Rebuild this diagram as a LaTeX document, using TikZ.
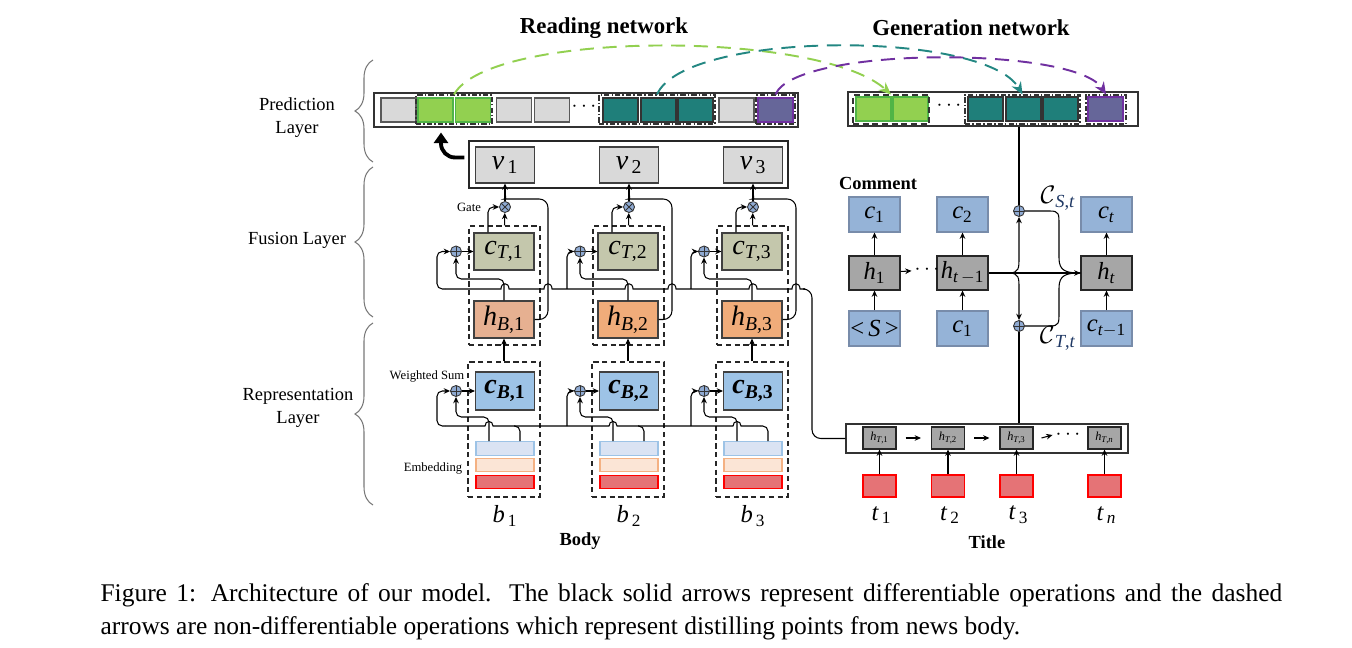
\documentclass[tikz,border=0pt]{standalone}
\usepackage{fontspec}
\setmainfont{Liberation Serif}
\usepackage{tikz}
\usetikzlibrary{arrows.meta,positioning,calc,decorations.pathreplacing}

\definecolor{cellGray}  {RGB}{217,217,217}
\definecolor{cellEdge}  {RGB}{ 89, 89, 89}
\definecolor{limeFill}  {RGB}{146,208, 80}
\definecolor{limeEdge}  {RGB}{ 80,180, 70}
\definecolor{tealFill}  {RGB}{ 31,127,122}
\definecolor{tealArc}   {RGB}{ 35,135,130}
\definecolor{violFill}  {RGB}{102,102,153}
\definecolor{violEdge}  {RGB}{112, 48,160}
\definecolor{ctFill}    {RGB}{196,199,172}
\definecolor{hbFillA}   {RGB}{230,176,145}
\definecolor{hbFill}    {RGB}{240,172,122}
\definecolor{cbFill}    {RGB}{157,195,230}
\definecolor{embBlue}   {RGB}{218,227,243}
\definecolor{embBlueE}  {RGB}{157,195,230}
\definecolor{embPeach}  {RGB}{251,229,214}
\definecolor{embPeachE} {RGB}{244,177,131}
\definecolor{embRed}    {RGB}{229,115,118}
\definecolor{opFill}    {RGB}{143,170,210}
\definecolor{cmtFill}   {RGB}{149,179,215}
\definecolor{cmtEdge}   {RGB}{120,140,170}
\definecolor{hidFill}   {RGB}{166,166,166}
\definecolor{braceGray} {RGB}{120,120,120}
\definecolor{subBlue}   {RGB}{ 31, 56,100}

\newcommand{\vlab}[2]{\textit{#1}\textsubscript{#2}}
\newcommand{\fsz}[1]{\fontsize{#1}{#1}\selectfont}

\tikzset{
  headline/.style={font=\bfseries\fsz{13}},
  boldlabel/.style={font=\bfseries\fsz{10.5}},
  layername/.style={font=\fontsize{10.5}{13}\selectfont, align=center},
  smalltext/.style={font=\fsz{7.2}, inner sep=0pt},
  lbrace/.style={decorate, decoration={brace, amplitude=0.36cm},
                 draw=braceGray, line width=0.6pt},
  predbar/.style={draw=black!80, line width=0.7pt, minimum height=0.68cm, inner sep=0pt},
  predcell/.style={draw=cellEdge, fill=cellGray, line width=0.6pt,
                   minimum width=0.70cm, minimum height=0.48cm, inner sep=0pt},
  dashdot/.style={draw=black!80, line width=0.6pt,
                  dash pattern=on 3pt off 1.2pt on 0.8pt off 1.2pt,
                  minimum height=0.58cm, inner sep=0pt},
  dashbox/.style={dashdot, dash pattern=on 3.5pt off 2pt},
  dotnode/.style={font=\fsz{13}, inner sep=1.5pt},
  distil/.style={dash pattern=on 8pt off 5pt, line width=1.1pt,
                 -{Stealth[length=7pt,width=6pt]}},
  backarrow/.style={line width=2.2pt, rounded corners=8pt,
                    -{Triangle[length=6pt,width=8pt]}},
  vbar/.style={draw=black!85, line width=0.7pt, inner sep=0pt},
  vbox/.style={draw=black!75, fill=cellGray, minimum width=1.18cm,
               minimum height=0.72cm, inner sep=0pt, font=\fsz{16}},
  ctbox/.style={draw=black!75, fill=ctFill, minimum width=1.20cm,
                minimum height=0.74cm, inner sep=0pt, font=\fsz{16}},
  hbbox/.style={draw=black!75, minimum width=1.20cm,
                minimum height=0.74cm, inner sep=0pt, font=\fsz{16}},
  cbbox/.style={draw=black!75, fill=cbFill, minimum width=1.18cm,
                minimum height=0.76cm, inner sep=0pt, font=\bfseries\fsz{16}},
  embbar/.style={minimum width=1.16cm, minimum height=0.27cm, inner sep=0pt},
  fusebox/.style={draw=black!85, dash pattern=on 3pt off 2pt, line width=0.7pt,
                  minimum width=1.42cm, minimum height=2.38cm},
  repbox/.style={fusebox, minimum width=1.44cm, minimum height=2.70cm},
  oplus/.style={circle, draw=black!80, fill=opFill, minimum size=0.22cm,
                inner sep=0pt, line width=0.5pt,
                path picture={\draw[black!80, line width=0.5pt]
                  (path picture bounding box.north) -- (path picture bounding box.south)
                  (path picture bounding box.west) -- (path picture bounding box.east);}},
  otimes/.style={oplus,
                 path picture={\draw[black!80, line width=0.5pt]
                  (path picture bounding box.north west) -- (path picture bounding box.south east)
                  (path picture bounding box.north east) -- (path picture bounding box.south west);}},
  blab/.style={font=\fsz{14}},
  cmtbox/.style={draw=cmtEdge, fill=cmtFill, minimum width=1.02cm,
                 minimum height=0.70cm, inner sep=0pt, font=\fsz{14}},
  hidbox/.style={draw=black!85, fill=hidFill, minimum width=1.02cm,
                 minimum height=0.68cm, inner sep=0pt, font=\fsz{14}},
  ctxlabel/.style={font=\fsz{15}, inner sep=0pt},
  tbar/.style={draw=black!80, line width=0.7pt, minimum height=0.58cm, inner sep=0pt},
  htbox/.style={draw=black!85, fill=hidFill, minimum width=0.66cm,
                minimum height=0.44cm, inner sep=0pt, font=\fsz{7}},
  tbox/.style={draw=red, fill=embRed, minimum width=0.66cm,
               minimum height=0.44cm, inner sep=0pt},
  capt/.style={font=\fontsize{14.5}{18.7}\selectfont, text width=23.64cm,
               align=justify, inner sep=0pt, anchor=north west}
}

\begin{document}
\begin{tikzpicture}[x=0.02cm, y=-0.02cm, line width=0.6pt,
    >={Stealth[length=3.6pt,width=3.2pt]}]
  \useasboundingbox (0,0) rectangle (1352,648);

  % titles
  \node[headline] (hRead) at (604,28) {Reading network};
  \node[headline] (hGen)  at (971,28) {Generation network};

  % layers
  \draw[lbrace] (373,162) -- (373,60);
  \draw[lbrace] (373,317) -- (373,167);
  \draw[lbrace] (373,505) -- (373,323);
  \node[layername] (lPred) at (297,118) {Prediction\\Layer};
  \node[layername] (lFus)  at (297,240) {Fusion Layer};
  \node[layername] (lRep)  at (298,408) {Representation\\Layer};

  % prediction layer of the reading network
  \node[predbar, minimum width=8.48cm] (rBar) at (586,110) {};
  \foreach \n/\x/\f/\d in {r1/398.5/cellGray/cellEdge, r2/435.5/limeFill/limeEdge,
      r3/473/limeFill/limeEdge, r4/514/cellGray/cellEdge, r5/552/cellGray/cellEdge,
      r6/620.5/tealFill/black!80, r7/658.5/tealFill/black!80, r8/695.5/tealFill/black!80,
      r9/736.5/cellGray/cellEdge, r10/775.5/violFill/violEdge}
    \node[predcell, fill=\f, draw=\d] (\n) at (\x,110) {};
  \node[dotnode] (rDots) at (584,107) {$\cdots$};
  \node[dashdot, minimum width=1.52cm] (rgLime) at (454,109.5) {};
  \node[dashdot, minimum width=2.32cm] (rgTeal) at (657,109.5) {};
  \node[dashdot, minimum width=0.78cm] (rgViol) at (775.5,109.5) {};

  % generation network output
  \node[predbar, minimum width=5.80cm] (gBar) at (993,109) {};
  \foreach \n/\x/\f/\d in {g1/873.5/limeFill/limeEdge, g2/910.5/limeFill/limeEdge,
      g3/985.5/tealFill/black!80, g4/1023.5/tealFill/black!80,
      g5/1060.5/tealFill/black!80, g6/1105.5/violFill/violEdge}
    \node[predcell, fill=\f, draw=\d] (\n) at (\x,109) {};
  \node[dotnode] (gDots) at (949,106) {$\cdots$};
  \node[dashbox, minimum width=1.52cm] (ggLime) at (891,109.5) {};
  \node[dashdot, minimum width=2.30cm] (ggTeal) at (1022.5,109.5) {};
  \node[dashdot, minimum width=0.80cm] (ggViol) at (1106,109.5) {};

  % distilling points
  \draw[distil, limeFill] (rgLime.north) .. controls (490,30) and (820,30) .. (ggLime.north);
  \draw[distil, tealArc] (rgTeal.north) .. controls (685,30) and (985,30) .. (ggTeal.north);
  \draw[distil, violEdge] (rgViol.north) .. controls (795,46) and (1075,46) .. (ggViol.north);

  % fusion outputs
  \node[vbar, minimum width=6.38cm, minimum height=0.94cm] (vBar) at (628.5,164.5) {};
  \draw[backarrow] ($(vBar.west)+(-4,-7)$) -| ($(rgLime.south)+(-13,8)$);

  % columns of the body
  \foreach \k/\x/\hf in {1/505/hbFillA, 2/629/hbFill, 3/753/hbFill}{
    \node[vbox] (v\k) at (\x,165) {\vlab{v}{\,\k}};
    \node[otimes] (g\k) at (\x,207) {};
    \node[fusebox] (fz\k) at (\x-0.5,285.5) {};
    \node[repbox] (rz\k) at (\x-1,429.5) {};
    \node[ctbox] (cT\k) at (\x-1,251.5) {\vlab{c}{\textit{T},\k}};
    \node[hbbox, fill=\hf] (hB\k) at (\x-1,319.5) {\vlab{h}{\textit{B},\k}};
    \node[cbbox] (cB\k) at (\x,391) {\vlab{c}{\textit{B},\k}};
    \node[oplus] (pT\k) at (\x-49,251.5) {};
    \node[oplus] (pB\k) at (\x-49,391) {};
    \node[embbar, fill=embBlue, draw=embBlueE] (eA\k) at (\x,448.5) {};
    \node[embbar, fill=embPeach, draw=embPeachE] (eB\k) at (\x,465) {};
    \node[embbar, fill=embRed, draw=red] (eC\k) at (\x,482) {};
    \node[blab] (b\k) at (\x,516) {\vlab{b}{\,\k}};

    \draw[->] (g\k) -- (v\k);
    \draw[->] (fz\k.north) -- (g\k);
    \draw[->, rounded corners=3pt] ($(cT\k.north)+(-16,0)$) |- (g\k.west);
    \draw[rounded corners=5pt] (hB\k.east) -| (\x+43,199) -- (\x+8,199)
      .. controls (\x+2,199) and (\x,197) .. (\x,190);
    \draw[->] (pT\k) -- (cT\k);
    \draw[->] (pB\k) -- (cB\k);
    \draw[->, rounded corners=3pt] (hB\k.north) -- (\x-1,279) -| (pT\k.south);
    \draw[->] (rz\k.north) -- (hB\k.south);
    \draw[->, rounded corners=3pt] ($(eA\k.north)+(-16,0)$) -- (\x-16,417) -| (pB\k.south);
  }
  \node[smalltext] (lGate) at (469,207) {Gate};
  \node[smalltext] (lSum) at (427,376) {Weighted Sum};
  \node[smalltext] (lEmb) at (433,468) {Embedding};
  \node[boldlabel] (lBody) at (580,541) {Body};

  % weighted sum over the body
  \draw[rounded corners=3pt] ($(eA3.north)+(15,0)$) |- (760,426);
  \draw (760,426) \foreach \h in {737,613,489}{ -- (\h+4,426)
      .. controls (\h+4,420) and (\h-4,420) .. (\h-4,426)} -- (445,426);
  \draw[->, rounded corners=3pt] (445,426) -- (437,426) -- (437,391) -- (pB1.west);
  \foreach \k/\x in {2/629,3/753}
    \draw[->, rounded corners=3pt] (\x-62,426) |- (pB\k.west);
  \foreach \k/\x in {1/505,2/629}
    \draw[rounded corners=3pt] ($(eA\k.north)+(15,0)$) |- (\x+9,426);

  % title encoder
  \node[tbar, minimum width=5.64cm] (ttl) at (987,438.5) {};
  \foreach \k/\x/\s in {1/879.5/1, 2/948/2, 3/1016.5/3, 4/1104.5/\textit{n}}{
    \node[htbox] (hT\k) at (\x,438) {\vlab{h}{\textit{T},\s}};
    \node[tbox] (tt\k) at (\x,486) {};
    \node[blab] (lt\k) at (\x+2,515) {\vlab{t}{\,\s}};
    \draw[->] (tt\k) -- (hT\k);
  }
  \draw[->] ($(hT1.east)+(9,0)$) -- ($(hT2.west)+(-10,0)$);
  \draw[->] ($(hT2.east)+(9,0)$) -- ($(hT3.west)+(-10,0)$);
  \node[dotnode] (tDots) at (1068,435) {$\cdots$};
  \draw[->] ($(hT3.east)+(8,0)$) -- (tDots.west);
  \node[boldlabel] (lTitle) at (987,542) {Title};

  % title state back to the body
  \draw[rounded corners=5pt] (ttl.west) -| (812,289) -- (805,289);
  \draw (805,289) \foreach \h in {796,753,672,629,548,505}{ -- (\h+4,289)
      .. controls (\h+4,282) and (\h-4,282) .. (\h-4,289)} -- (445,289);
  \draw[->, rounded corners=3pt] (445,289) -- (437,289) -- (437,251.5) -- (pT1.west);
  \foreach \k/\x in {2/629,3/753}
    \draw[->, rounded corners=3pt] (\x-62,289) |- (pT\k.west);

  % comment decoder
  \node[boldlabel] (lCmt) at (878,183) {Comment};
  \node[cmtbox] (cm1) at (874.5,214.5) {\vlab{c}{1}};
  \node[cmtbox] (cm2) at (962.5,214.5) {\vlab{c}{2}};
  \node[cmtbox] (cmt) at (1106.5,214.5) {\vlab{c}{\textit{t}}};
  \node[hidbox] (hd1) at (874.5,273) {\vlab{h}{1}};
  \node[hidbox] (hdp) at (962.5,273) {\vlab{h}{\textit{t}\,$-$1}};
  \node[hidbox] (hdt) at (1106.5,273) {\vlab{h}{\textit{t}}};
  \node[cmtbox] (in1) at (874.5,328.5) {<\,\textit{S}\,>};
  \node[cmtbox] (in2) at (962.5,328.5) {\vlab{c}{1}};
  \node[cmtbox] (in3) at (1106.5,328.5) {\vlab{c}{\textit{t}$-$1}};
  \draw[->] (in1) -- (hd1);
  \draw[->] (hd1) -- (cm1);
  \draw[->] (in2) -- (hdp);
  \draw[->] (hdp) -- (cm2);
  \draw[->] (in3) -- (hdt);
  \draw[->] (hdt) -- (cmt);
  \node[dotnode] (hDots) at (927,270) {$\cdots$};
  \draw[->] (hd1) -- (hDots);

  \node[oplus] (pS) at (1019,211) {};
  \node[oplus] (pTt) at (1019,326) {};
  \node[ctxlabel] (lcs) at (1058,198) {$\mathcal{C}$\textsubscript{\color{subBlue}\textit{S},\textit{t}}};
  \node[ctxlabel] (lct) at (1058,338) {$\mathcal{C}$\textsubscript{\color{subBlue}\textit{T},\textit{t}}};
  \coordinate (jn) at (1009,273);
  \draw (hdp) -- (jn);
  \draw[->] (jn) -- (hdt);
  \draw[->] (jn) .. controls (1019,273) and (1019,268) .. (1019,258) -- (pS);
  \draw[->] (jn) .. controls (1019,273) and (1019,278) .. (1019,288) -- (pTt);
  \draw (pS) -- (1050,211) .. controls (1059,211) and (1059,214) .. (1059,224)
    -- (1059,258) .. controls (1059,271) and (1066,273) .. (hdt.west);
  \draw (pTt) -- (1050,326) .. controls (1059,326) and (1059,323) .. (1059,313)
    -- (1059,288) .. controls (1059,275) and (1066,273) .. (hdt.west);
  \draw (gBar.south -| pS) -- (pS);
  \draw (ttl.north -| pTt) -- (pTt);

  % caption
  \node[capt] (caption) at (100,583) {Figure 1: Architecture of our model. The black
    solid arrows represent differentiable operations and the dashed\linebreak arrows are
    non-differentiable operations which represent distilling points from news body.};

\end{tikzpicture}
\end{document}
